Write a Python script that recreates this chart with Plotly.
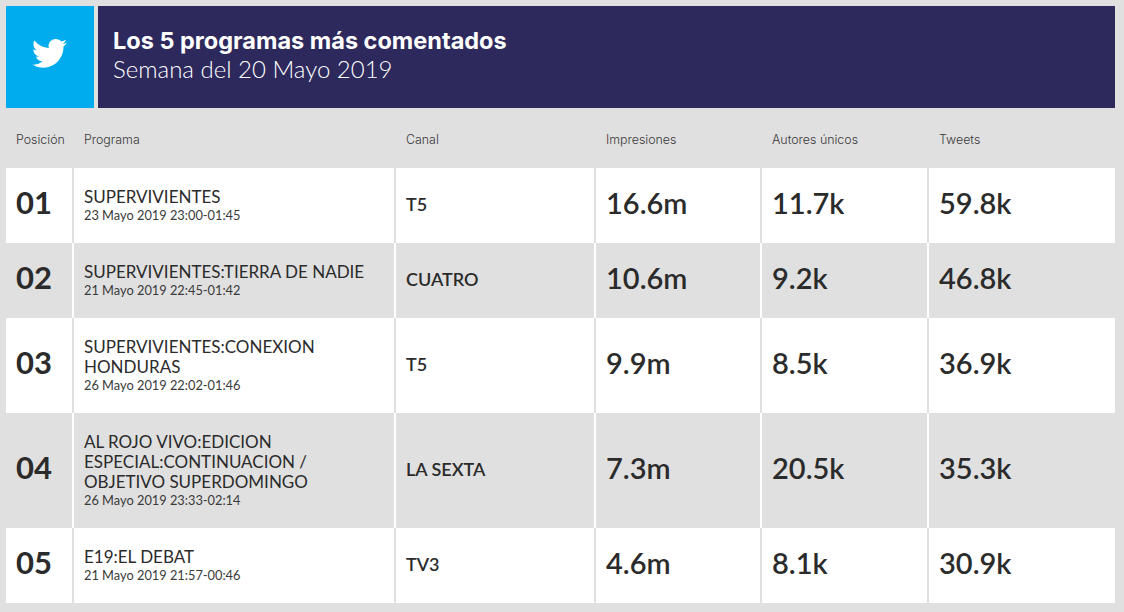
import plotly.graph_objects as go

# Table data
title = "Los 5 programas más comentados"
subtitle = "Semana del 20 Mayo 2019"
headers = ["Posición", "Programa", "Canal", "Impresiones", "Autores únicos", "Tweets"]
positions = ["01", "02", "03", "04", "05"]
programs = [
    ["SUPERVIVIENTES"],
    ["SUPERVIVIENTES:TIERRA DE NADIE"],
    ["SUPERVIVIENTES:CONEXION", "HONDURAS"],
    ["AL ROJO VIVO:EDICION", "ESPECIAL:CONTINUACION /", "OBJETIVO SUPERDOMINGO"],
    ["E19:EL DEBAT"],
]
dates = [
    "23 Mayo 2019 23:00-01:45",
    "21 Mayo 2019 22:45-01:42",
    "26 Mayo 2019 22:02-01:46",
    "26 Mayo 2019 23:33-02:14",
    "21 Mayo 2019 21:57-00:46",
]
channels = ["T5", "CUATRO", "T5", "LA SEXTA", "TV3"]
impressions = ["16.6m", "10.6m", "9.9m", "7.3m", "4.6m"]
authors = ["11.7k", "9.2k", "8.5k", "20.5k", "8.1k"]
tweets = ["59.8k", "46.8k", "36.9k", "35.3k", "30.9k"]

# Layout of the grid, in pixels
row_edges = [168, 243, 318, 413, 528, 603]
col_edges = [6, 73, 395, 595, 761, 928, 1115]
text_x = [14, 82, 404, 604, 770, 937]

GREY = "#e0e0e0"
NAVY = "#2d295c"
BLUE = "#00acee"
INK = "#2b2b2b"
FONT = "Lato"

fig = go.Figure()


def add_text(x, y, text, size, weight=400, color=INK, family=FONT):
    fig.add_annotation(x=x, y=y, text=text, showarrow=False, xanchor="left", yanchor="middle",
                       font=dict(family=family, size=size, color=color, weight=weight))


def add_box(x0, y0, x1, y1, color):
    fig.add_shape(type="rect", x0=x0, y0=y0, x1=x1, y1=y1, fillcolor=color, line_width=0, layer="below")


# Header band
add_box(6, 6, 94, 108, BLUE)
add_box(98, 6, 1115, 108, NAVY)


def bird_path(x0, y0, k):
    # twitter bird outline in a 24 unit box
    segs = [
        ("M", [(23.95, 4.57)]),
        ("Q", [(22.6, 5.2), (21.13, 5.35)]),
        ("Q", [(22.7, 4.4), (23.29, 2.62)]),
        ("Q", [(21.8, 3.5), (20.16, 3.81)]),
        ("C", [(19.2, 2.75), (17.8, 2.08), (16.2, 2.08)]),
        ("C", [(13.5, 2.08), (11.3, 4.3), (11.3, 7.0)]),
        ("Q", [(11.3, 7.7), (11.78, 8.29)]),
        ("C", [(7.69, 8.1), (4.07, 6.13), (1.64, 3.16)]),
        ("Q", [(0.97, 4.3), (0.97, 5.64)]),
        ("C", [(0.97, 7.35), (1.84, 8.85), (3.16, 9.73)]),
        ("Q", [(1.95, 9.7), (0.93, 9.12)]),
        ("L", [(0.93, 9.18)]),
        ("Q", [(1.0, 13.0), (4.88, 14.0)]),
        ("Q", [(3.8, 14.3), (2.67, 14.09)]),
        ("Q", [(3.8, 17.3), (7.27, 17.51)]),
        ("Q", [(4.6, 19.6), (1.17, 19.61)]),
        ("Q", [(0.58, 19.61), (0, 19.54)]),
        ("Q", [(3.5, 21.75), (7.56, 21.75)]),
        ("C", [(16.61, 21.75), (21.56, 14.26), (21.56, 7.77)]),
        ("Q", [(21.56, 7.45), (21.54, 7.14)]),
        ("Q", [(23.0, 6.1), (24, 4.59)]),
    ]
    path = ""
    for cmd, pts in segs:
        path += cmd + " " + " ".join(f"{x0 + px * k:.2f},{y0 + py * k:.2f}" for px, py in pts) + " "
    return path + "Z"


fig.add_shape(type="path", path=bird_path(32, 36, 1.46), fillcolor="white", line_width=0)

add_text(111, 40, title, 23.5, 700, "white", "Inter")
add_text(111, 68, subtitle, 24, 300, "white")

for x, h in zip(text_x, headers):
    add_text(x, 139.5, h, 12.4, 300, "#3a3a3a", "Inter")

# Rows, white and grey in turn
for i in range(len(positions)):
    top, bottom = row_edges[i], row_edges[i + 1]
    mid = (top + bottom) / 2 - 3
    fill = "white" if i % 2 == 0 else GREY
    rule = GREY if i % 2 == 0 else "white"
    add_box(col_edges[0], top, col_edges[-1], bottom, fill)
    for edge in col_edges[1:-1]:
        add_box(edge - 1, top, edge + 1, bottom, rule)

    add_text(text_x[0], mid - 0.5, positions[i], 31, 700)
    y = top + 28.5
    for line in programs[i]:
        add_text(text_x[1], y, line, 17, 400)
        y += 20
    add_text(text_x[1], y - 2, dates[i], 12.8, 400, "#3a3a3a")
    add_text(text_x[2], mid + 1, channels[i], 18, 600)
    add_text(text_x[3], mid, impressions[i], 29, 600)
    add_text(text_x[4], mid, authors[i], 29, 600)
    add_text(text_x[5], mid, tweets[i], 29, 600)

fig.update_layout(
    width=1124, height=612, margin=dict(l=0, r=0, t=0, b=0),
    paper_bgcolor=GREY, plot_bgcolor=GREY, showlegend=False,
    xaxis=dict(range=[0, 1124], visible=False, fixedrange=True),
    yaxis=dict(range=[612, 0], visible=False, fixedrange=True),
)

fig.write_html("out.html", config={"displayModeBar": False},
               post_script="document.body.style.margin='0';document.body.style.background='#e0e0e0';")
